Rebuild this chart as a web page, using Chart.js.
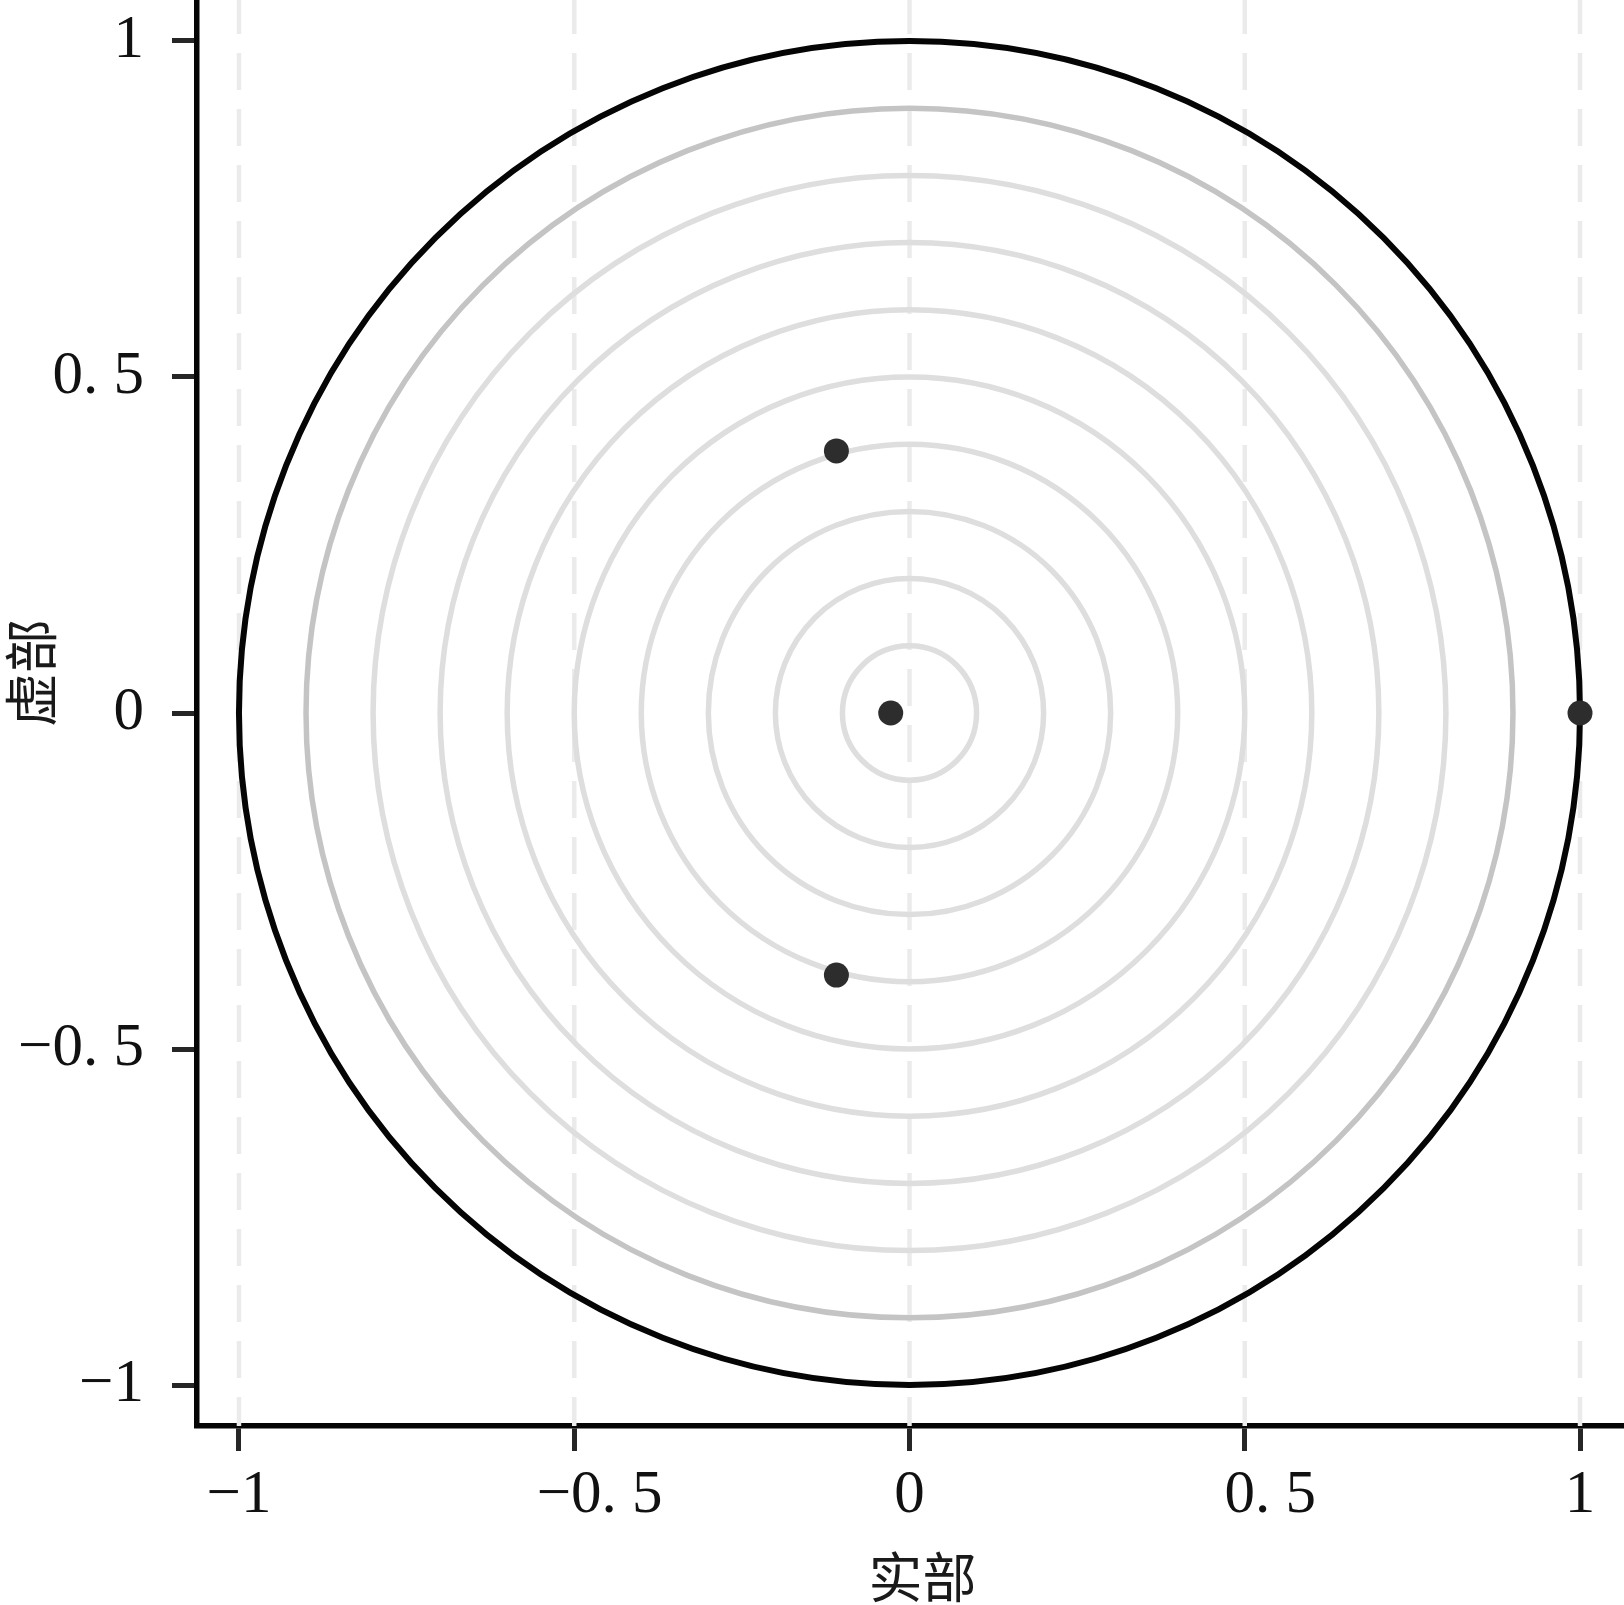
<!DOCTYPE html>
<html>
<head>
<meta charset="utf-8">
<script src="https://cdn.jsdelivr.net/npm/chart.js@4/dist/chart.umd.min.js"></script>
<style>
html,body{margin:0;padding:0;background:#fff;}
canvas{display:block;}
</style>
</head>
<body>
<canvas id="c" width="1624" height="1605"></canvas>
<script>
// ---- data ----
const rootReal = [1.0, -0.028, -0.109, -0.109];
const rootImag = [0.0, 0.0, 0.390, -0.390];
const ringRadii = [0.1, 0.2, 0.3, 0.4, 0.5, 0.6, 0.7, 0.8, 0.9, 1.0];
const xTickValues = [-1, -0.5, 0, 0.5, 1];
const xTickLabels = ['\u22121', '\u2002\u2004\u22120. 5', '0', '\u2002\u20040. 5', '1'];
const yTickValues = [-1, -0.5, 0, 0.5, 1];
const yTickLabels = ['\u22121', '\u22120. 5', '0', '0. 5', '1'];
const xTitle = '实部';
const yTitle = '虚部';

const points = rootReal.map((re, i) => ({x: re, y: rootImag[i]}));

const tickFont = {family: '"Liberation Serif", "Times New Roman", serif', size: 61};
const titleFont = '54px "Noto Sans CJK SC", sans-serif';

function ringStyle(r, rMax) {
  if (r === rMax) return {color: '#050505', width: 6};
  if (r === ringRadii[ringRadii.length - 2]) return {color: '#c4c4c4', width: 5.5};
  return {color: '#dedede', width: 5.5};
}

const backdropPlugin = {
  id: 'backdrop',
  beforeDatasetsDraw(chart) {
    const {ctx, chartArea: a, scales: {x, y}} = chart;
    ctx.save();
    ctx.beginPath();
    ctx.rect(a.left, a.top, a.right - a.left, a.bottom - a.top);
    ctx.clip();
    // dashed vertical grid lines at x ticks
    ctx.strokeStyle = '#ebebeb';
    ctx.lineWidth = 4.5;
    ctx.setLineDash([37, 19]);
    ctx.lineDashOffset = 3;
    xTickValues.forEach(v => {
      const px = x.getPixelForValue(v);
      ctx.beginPath();
      ctx.moveTo(px, a.top);
      ctx.lineTo(px, a.bottom);
      ctx.stroke();
    });
    ctx.setLineDash([]);
    // concentric rings
    const cx = x.getPixelForValue(0), cy = y.getPixelForValue(0);
    const rMax = Math.max(...ringRadii);
    ringRadii.forEach(r => {
      const st = ringStyle(r, rMax);
      const rx = x.getPixelForValue(r) - cx;
      const ry = cy - y.getPixelForValue(r);
      ctx.beginPath();
      ctx.ellipse(cx, cy, rx, ry, 0, 0, Math.PI * 2);
      ctx.strokeStyle = st.color;
      ctx.lineWidth = st.width;
      ctx.stroke();
    });
    ctx.restore();
  }
};

const titlePlugin = {
  id: 'axisTitles',
  afterDraw(chart) {
    const {ctx, chartArea: a} = chart;
    ctx.save();
    ctx.font = titleFont;
    ctx.fillStyle = '#1a1a1a';
    ctx.textAlign = 'center';
    ctx.textBaseline = 'middle';
    ctx.fillText(xTitle, (a.left + a.right) / 2 + 12, chart.height - 28);
    ctx.translate(31, (a.top + a.bottom) / 2 - 40);
    ctx.rotate(-Math.PI / 2);
    ctx.fillText(yTitle, 0, 0);
    ctx.restore();
  }
};

new Chart(document.getElementById('c'), {
  type: 'scatter',
  data: {
    datasets: [{
      label: 'roots',
      data: points,
      pointRadius: 12.5,
      pointHoverRadius: 12.5,
      pointBackgroundColor: '#2d2d2d',
      pointBorderWidth: 0,
      showLine: false,
      clip: false
    }]
  },
  options: {
    responsive: false,
    animation: false,
    devicePixelRatio: 1,
    layout: {padding: 0, autoPadding: false},
    plugins: {legend: {display: false}, tooltip: {enabled: false}},
    scales: {
      x: {
        type: 'linear',
        min: -1.0626,
        max: 1.0656,
        afterBuildTicks: s => { s.ticks = xTickValues.map(v => ({value: v})); },
        afterFit: s => { s.height = 179; s.paddingLeft = 0; s.paddingRight = 0; s.paddingTop = 0; s.paddingBottom = 0; },
        grid: {drawOnChartArea: false, drawTicks: true, tickLength: 25, tickWidth: 5, tickColor: '#262626', color: '#262626'},
        border: {display: true, color: '#050505', width: 5.5},
        ticks: {
          font: tickFont, color: '#111', padding: 8, maxRotation: 0, autoSkip: false,
          callback: v => { const i = xTickValues.indexOf(v); return i >= 0 ? xTickLabels[i] : ''; }
        }
      },
      y: {
        type: 'linear',
        min: -1.061,
        max: 1.061,
        afterBuildTicks: s => { s.ticks = yTickValues.map(v => ({value: v})); },
        afterFit: s => { s.width = 197; s.paddingLeft = 0; s.paddingRight = 0; s.paddingTop = 0; s.paddingBottom = 0; },
        grid: {drawOnChartArea: false, drawTicks: true, tickLength: 25, tickWidth: 5, tickColor: '#262626', color: '#262626'},
        border: {display: true, color: '#050505', width: 5.5},
        ticks: {
          font: tickFont, color: '#111', padding: 28, autoSkip: false,
          callback: v => { const i = yTickValues.indexOf(v); return i >= 0 ? yTickLabels[i] : ''; }
        }
      }
    }
  },
  plugins: [backdropPlugin, titlePlugin]
});
</script>
</body>
</html>
